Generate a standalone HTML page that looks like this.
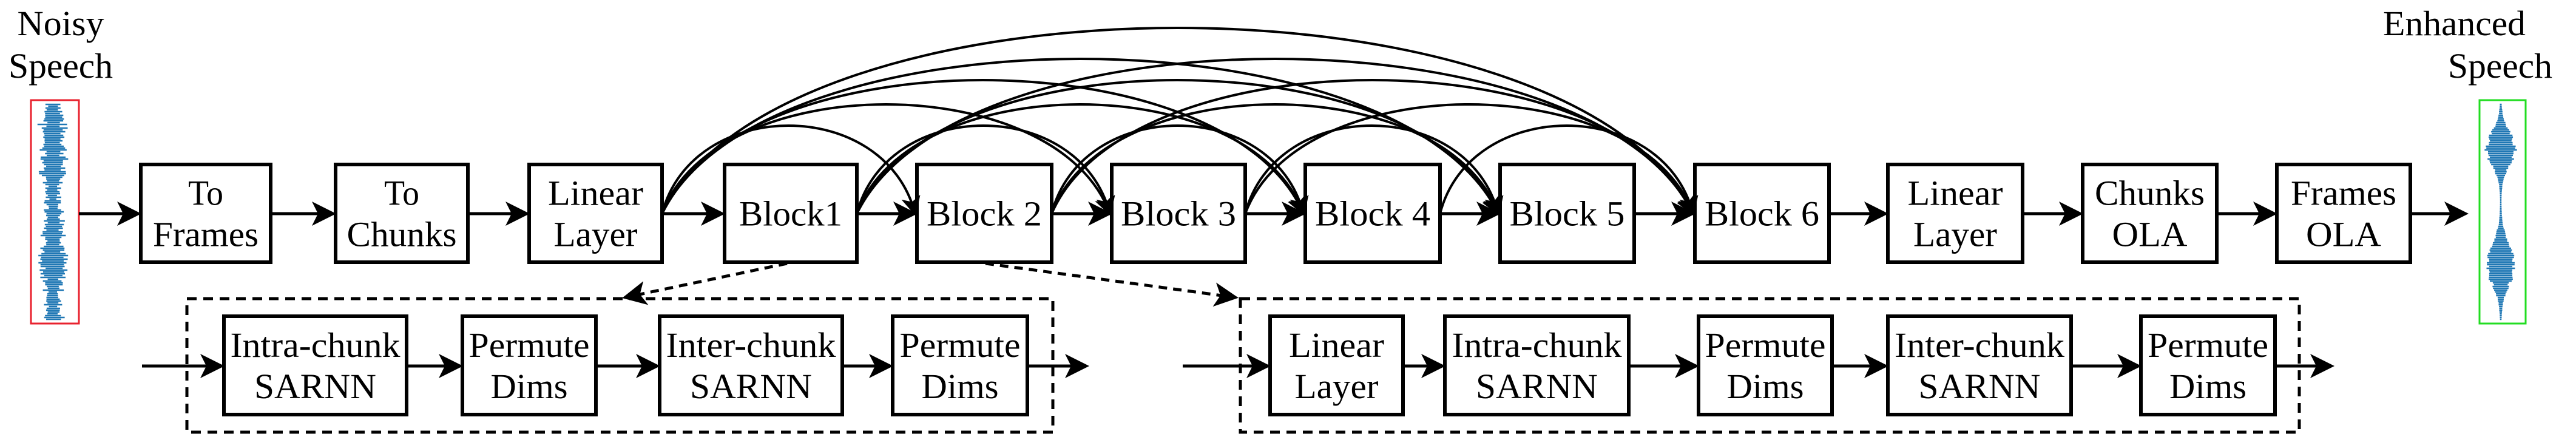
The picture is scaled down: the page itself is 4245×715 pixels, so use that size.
<!DOCTYPE html>
<html><head><meta charset="utf-8">
<style>
html,body{margin:0;padding:0;background:#fff;}
svg{display:block;}
svg text{font-family:"Liberation Serif","Times New Roman",Times,"DejaVu Serif",serif;font-size:58px;fill:#000;text-anchor:middle;}
</style></head>
<body>
<svg id="s" width="4245" height="715" viewBox="0 0 4245 715" xmlns="http://www.w3.org/2000/svg">
<defs>
<marker id="ah" markerWidth="8" markerHeight="8" refX="7" refY="4" orient="auto" markerUnits="strokeWidth">
<path d="M0,0 L8,4 L0,8 L2,4 z" fill="#000"/>
</marker>
</defs>
<g id="wave"></g>
<rect x="51" y="165" width="79" height="368" fill="none" stroke="#e8222e" stroke-width="3"/>
<rect x="4086" y="165" width="76" height="368" fill="none" stroke="#22dd22" stroke-width="3"/>
<g id="boxes" fill="#fff" stroke="#000" stroke-width="6"></g>
<g id="lines" fill="none" stroke="#000" stroke-width="5"></g>
<g id="txt"></g>
<rect x="308" y="492" width="1427" height="220" fill="none" stroke="#000" stroke-width="5" stroke-dasharray="16,11"/>
<rect x="2044" y="492" width="1745" height="220" fill="none" stroke="#000" stroke-width="5" stroke-dasharray="16,11"/>
<line x1="1297" y1="434" x2="1030" y2="490" stroke="#000" stroke-width="5" stroke-dasharray="14,10" marker-end="url(#ah)"/>
<line x1="1624" y1="434" x2="2036" y2="490" stroke="#000" stroke-width="5" stroke-dasharray="14,10" marker-end="url(#ah)"/>
</svg>
<script>
var NS="http://www.w3.org/2000/svg";
function el(p,t,a,txt){var e=document.createElementNS(NS,t);for(var k in a)e.setAttribute(k,a[k]);if(txt)e.textContent=txt;document.getElementById(p).appendChild(e);return e;}
var W={"To":58,"Frames":174,"Chunks":181,"Linear":157,"Layer":138,"Block1":170,"Block 2":190,"Block 3":190,"Block 4":190,"Block 5":190,"Block 6":189,"OLA":124,"Intra-chunk":280,"Inter-chunk":280,"SARNN":201,"Permute":199,"Dims":127,"Noisy":143,"Speech":172,"Enhanced":235};
function T(x,y,s,anchor){var a={x:x,y:y,textLength:W[s],lengthAdjust:"spacingAndGlyphs"};if(anchor)a.style="text-anchor:"+anchor;el("txt","text",a,s);}
T(100,58,"Noisy");T(100,128,"Speech");T(4162,58,"Enhanced","end");T(4120,128,"Speech");
var top1=[[232,446,["To","Frames"]],[553,771,["To","Chunks"]],[872,1091,["Linear","Layer"]],[1194,1412,["Block1"]],[1511,1733,["Block 2"]],[1832,2052,["Block 3"]],[2151,2373,["Block 4"]],[2472,2693,["Block 5"]],[2793,3014,["Block 6"]],[3111,3333,["Linear","Layer"]],[3432,3653,["Chunks","OLA"]],[3752,3972,["Frames","OLA"]]];
var bot=[[369,670,["Intra-chunk","SARNN"]],[762,982,["Permute","Dims"]],[1087,1388,["Inter-chunk","SARNN"]],[1471,1693,["Permute","Dims"]],[2093,2312,["Linear","Layer"]],[2381,2684,["Intra-chunk","SARNN"]],[2799,3019,["Permute","Dims"]],[3111,3413,["Inter-chunk","SARNN"]],[3528,3749,["Permute","Dims"]]];
function drawRow(arr,y0,y1){arr.forEach(function(b){el("boxes","rect",{x:b[0],y:y0,width:b[1]-b[0],height:y1-y0});var cx=(b[0]+b[1])/2,cy=(y0+y1)/2;
if(b[2].length==1)T(cx,cy+20,b[2][0]);else{T(cx,cy-14,b[2][0]);T(cx,cy+54,b[2][1]);}});}
drawRow(top1,271,432);drawRow(bot,521,683);
function arr(x1,y,x2){el("lines","line",{x1:x1,y1:y,x2:x2-4,y2:y,"marker-end":"url(#ah)"});}
arr(130,352,232);
for(var i=0;i<top1.length-1;i++)arr(top1[i][1],352,top1[i+1][0]);
arr(3972,352,4067);
arr(234,603,369);arr(670,603,762);arr(982,603,1087);arr(1388,603,1471);arr(1693,603,1794);
arr(1949,603,2093);arr(2312,603,2381);arr(2684,603,2799);arr(3019,603,3111);arr(3413,603,3528);arr(3749,603,3846);
var H={2:145,3:180,4:220,5:255,6:306};
for(var a=2;a<=8;a++)for(var b=a+2;b<=8;b++){var x1=top1[a][1],x2=top1[b][0]-3,w=x2-x1,h=H[b-a]*4/3;
el("lines","path",{d:"M"+x1+",352 C"+(x1+w*0.12)+","+(352-h)+" "+(x2-w*0.12)+","+(352-h)+" "+x2+",352","marker-end":"url(#ah)","stroke-width":4});}
var seed=7;function rnd(){seed=(seed*9301+49297)%233280;return seed/233280;}
for(var y=172;y<528;y+=3){var t=(y-172)/356;var env=0.45+0.55*Math.abs(Math.sin(t*Math.PI*2.1+0.3));var w=(6+22*env)*(0.4+0.6*rnd());
el("wave","line",{x1:86-w*(0.6+0.4*rnd()),x2:86+w,y1:y,y2:y,stroke:"#1f77b4","stroke-width":2.5});}
for(var y=172;y<528;y+=3){var e1=Math.exp(-Math.pow((y-245)/38,2)),e2=Math.exp(-Math.pow((y-435)/45,2));var w=1+26*(e1+e2)*(0.7+0.3*rnd());
el("wave","line",{x1:4121-w,x2:4121+w,y1:y,y2:y,stroke:"#1f77b4","stroke-width":2.5});}
</script>
</body></html>
